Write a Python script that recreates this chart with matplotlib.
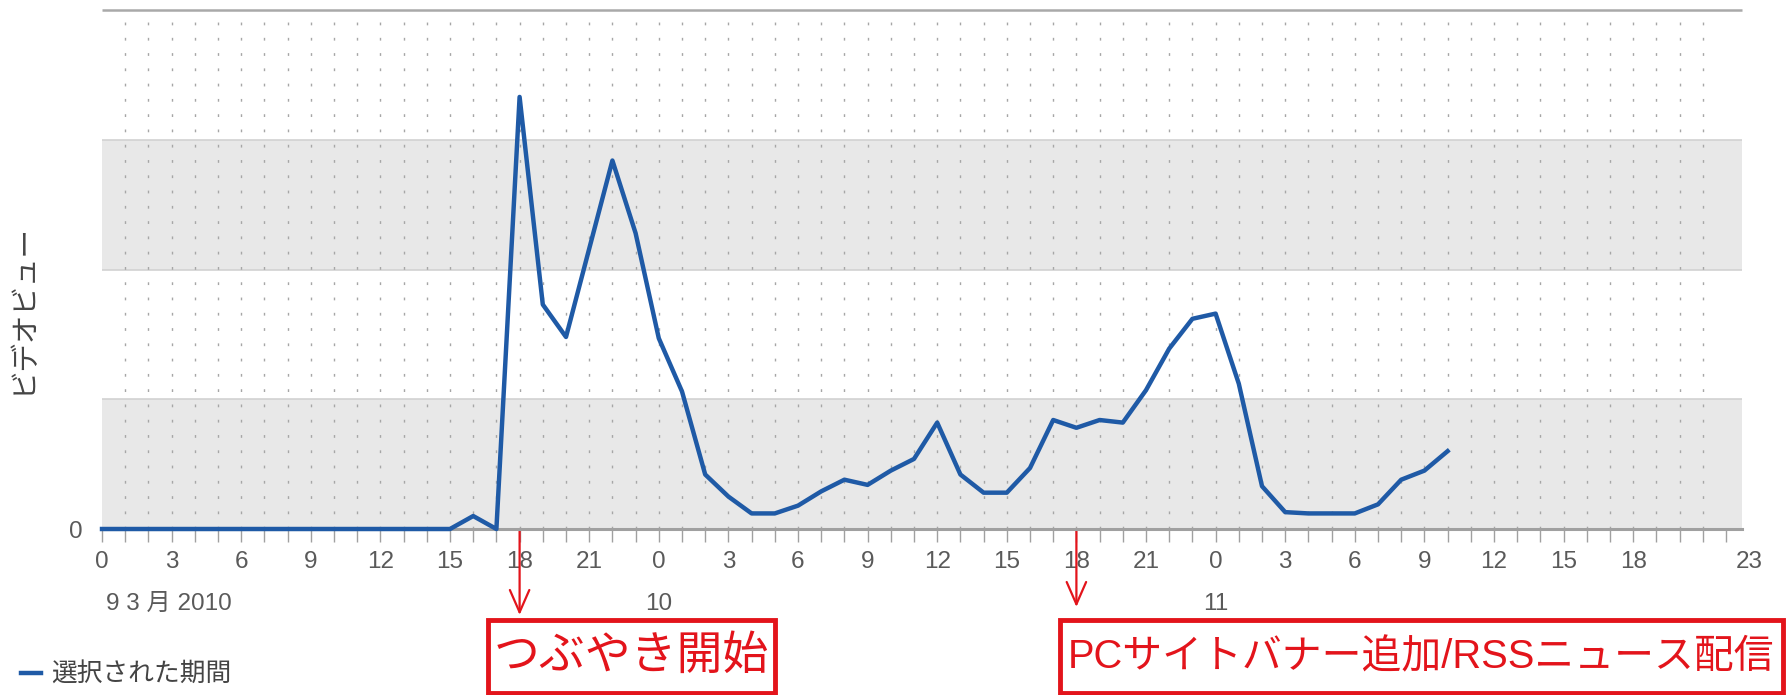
import matplotlib
matplotlib.use("Agg")
import matplotlib.pyplot as plt
from matplotlib.patches import Rectangle

# ---------------- data ----------------
hours = list(range(0, 59))
views = [0, 0, 0, 0, 0, 0, 0, 0, 0, 0, 0, 0, 0, 0, 0, 0,
         0.10, 0.0, 3.33, 1.73, 1.48, 2.16, 2.84, 2.28, 1.47, 1.06,
         0.42, 0.25, 0.12, 0.12, 0.18, 0.29, 0.38, 0.34, 0.45, 0.54,
         0.82, 0.42, 0.28, 0.28, 0.47, 0.84, 0.78, 0.84, 0.82, 1.07,
         1.39, 1.62, 1.66, 1.12, 0.33, 0.13, 0.12, 0.12, 0.12, 0.19,
         0.38, 0.45, 0.60]
series_name = "選択された期間"
y_label = "ビデオビュー"

tick_hours = list(range(0, 69, 3))
tick_labels = ["0", "3", "6", "9", "12", "15", "18", "21",
               "0", "3", "6", "9", "12", "15", "18", "21",
               "0", "3", "6", "9", "12", "15", "18"]
end_label_hour = 71
end_label = "23"
date_hours = [0, 24, 48]
date_labels = ["9 3 月 2010", "10", "11"]

event_hours = [18, 42]
event_labels = ["つぶやき開始", "PCサイトバナー追加/RSSニュース配信"]

# ---------------- style ----------------
FIG_W, FIG_H = 1787, 695
plt.rcParams["font.family"] = ["Liberation Sans", "Noto Sans CJK JP",
                               "DejaVu Sans"]
LINE_BLUE = "#1f5aa6"
RED = "#e3141b"
TXT_GRAY = "#5a5a5a"
X_MAX = 70.7

fig = plt.figure(figsize=(FIG_W / 100, FIG_H / 100), dpi=100)
ax_left, ax_top, ax_bottom = 102, 10, 529
ax_right = ax_left + 23.2 * X_MAX
ax = fig.add_axes([ax_left / FIG_W, 1 - ax_bottom / FIG_H,
                   (ax_right - ax_left) / FIG_W, (ax_bottom - ax_top) / FIG_H])
ax.set_xlim(0, X_MAX)
ax.set_ylim(0, 4)

# alternating bands
ax.axhspan(0, 1, color="#e8e8e8", zorder=0, lw=0)
ax.axhspan(2, 3, color="#e8e8e8", zorder=0, lw=0)
ax.hlines([1, 2, 3], 0, X_MAX, colors="#d2d2d2", lw=1.2, zorder=1)
ax.hlines(4, 0, X_MAX, colors="#a9a9a9", lw=1.8, zorder=1, clip_on=False)

# hourly dotted vertical grid
ax.vlines(range(1, 70), 0, 4, colors="#a6a6a6", lw=1.0,
          linestyles=(0, (2, 9)), zorder=1)

line, = ax.plot(hours, views, color=LINE_BLUE, lw=3.2, zorder=5,
                solid_joinstyle="round", clip_on=False)

# spines
for s in ["top", "right", "left"]:
    ax.spines[s].set_visible(False)
ax.spines["bottom"].set_color("#a0a0a0")
ax.spines["bottom"].set_linewidth(2.2)
ax.spines["bottom"].set_zorder(3)

ax.set_xticks(tick_hours)
ax.set_xticklabels(tick_labels)
ax.set_xticks(range(0, 71), minor=True)
ax.tick_params(axis="x", which="both", direction="out", length=9,
               width=1, color="#a0a0a0")
ax.tick_params(axis="x", which="major", pad=7, labelsize=17.5,
               labelcolor=TXT_GRAY)

fig.canvas.draw()
bb = ax.get_xticklabels()[0].get_window_extent()
x_end = ax.transData.transform((end_label_hour, 0))[0]
fig.text(x_end / FIG_W, bb.y1 / FIG_H, end_label, ha="center", va="top",
         fontsize=17.5, color=TXT_GRAY)

ax.set_yticks([0])
ax.set_yticklabels(["0"])
ax.tick_params(axis="y", length=0, pad=14, labelsize=17.5,
               labelcolor=TXT_GRAY)

# date row
for h, lab in zip(date_hours, date_labels):
    xpix = ax.transData.transform((h, 0))[0]
    fig.text(xpix / FIG_W + (0.002 if h == 0 else 0), 1 - 604 / FIG_H, lab,
             ha="left" if h == 0 else "center", va="center",
             fontsize=17.5, color=TXT_GRAY)

# y label
fig.text(23 / FIG_W, 1 - 308 / FIG_H, y_label, rotation=90,
         ha="center", va="center", fontsize=20.5, color="#444444",
         family=["Noto Sans CJK JP", "DejaVu Sans"])

# legend
fig.legend(handles=[line], labels=[series_name], loc="center left",
           bbox_to_anchor=(-0.001, 1 - 675 / FIG_H), frameon=False,
           handlelength=0.75, handletextpad=0.4,
           labelcolor="#444444",
           prop={"family": ["Noto Sans CJK JP", "DejaVu Sans"], "size": 18.5})

# event arrows + boxes
arrow_tip_y = [80, 88]
box_x = [(488, 775), (1060, 1783)]
box_font = [33, 28.7]
for h, lab, tip, (bx0, bx1), fs in zip(event_hours, event_labels,
                                        arrow_tip_y, box_x, box_font):
    ax.annotate("", xy=(h, tip), xytext=(h, FIG_H - ax_bottom),
                xycoords=("data", "figure pixels"),
                textcoords=("data", "figure pixels"),
                arrowprops=dict(arrowstyle="->,head_length=1.6,head_width=0.7",
                                color=RED, lw=1.6, shrinkA=0, shrinkB=0),
                annotation_clip=False)
    fig.patches.append(Rectangle((bx0 / FIG_W, 2 / FIG_H),
                                 (bx1 - bx0) / FIG_W, 73 / FIG_H,
                                 transform=fig.transFigure, fill=True,
                                 fc="white", ec=RED, lw=3.5, zorder=10))
    fig.text((bx0 + bx1) / 2 / FIG_W, 1 - 657 / FIG_H, lab, ha="center",
             va="center", fontsize=fs, color=RED, zorder=11,
             family=["Liberation Sans", "Noto Sans CJK JP", "DejaVu Sans"])

fig.savefig("out.png", dpi=100)
